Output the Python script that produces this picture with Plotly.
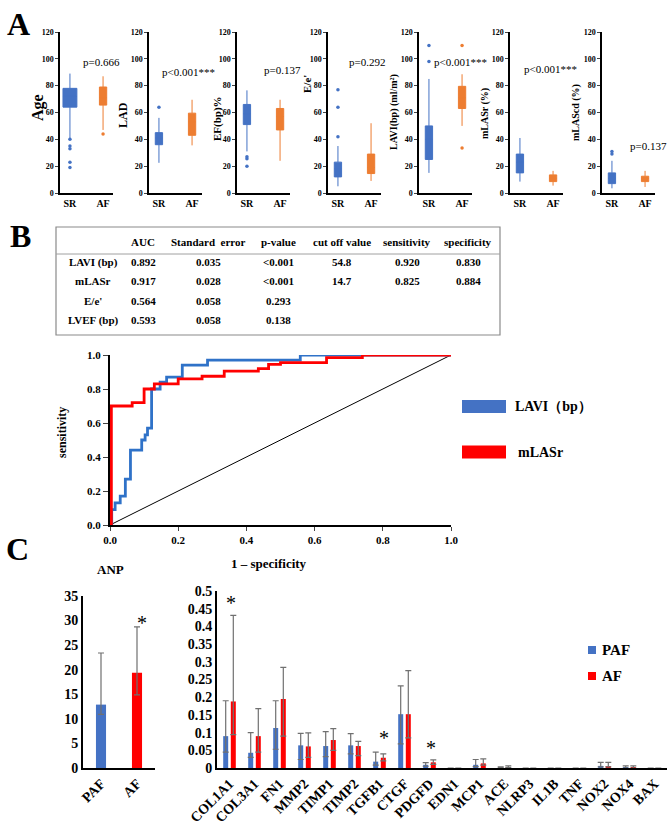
import plotly.graph_objects as go

W, H = 672, 830
def px(x): return x / W
def py(y): return 1 - y / H

SERIF = "Liberation Serif"
BLUE = "#4472C4"
ORANGE = "#ED7D31"
RED = "#FF0000"
ROC_BLUE = "#2F72C8"

# ---------------- Panel A data ----------------
box_labels = ["Age", "LAD", "EF(bp)%", "E/e'", "LAVI(bp) (ml/m²)", "mLASr (%)", "mLAScd (%)"]
p_texts = ["p=0.666", "p<0.001***", "p=0.137", "p=0.292", "p<0.001***", "p<0.001***", "p=0.137"]
group_labels = ["SR", "AF"]

sr_q1 = [64, 36, 51, 12, 25, 15, 7]
sr_med = [72, 41, 59, 18, 40, 23, 11]
sr_q3 = [78, 45, 66, 23, 50, 29, 15]
sr_low = [41, 22.5, 31, 5, 15, 8.5, 3.5]
sr_high = [89, 56, 76.5, 35, 85, 41, 24]
sr_out = [[40, 35, 33, 23, 19], [64], [27, 25.5, 20], [77, 64, 42], [110, 98], [], [31, 29]]

af_q1 = [65.5, 43, 47, 14.5, 63, 8.5, 8.5]
af_med = [71, 53, 57, 19, 71, 11, 10.8]
af_q3 = [79, 59.5, 63, 29, 79.5, 13.5, 12.5]
af_low = [47, 35.5, 24, 9, 50, 5.5, 4.5]
af_high = [87, 69.5, 69.5, 52, 88.5, 16.5, 16.5]
af_out = [[44], [], [], [], [110, 33.5], [], []]

# ---------------- Panel B data ----------------
table_header = ["", "AUC", "Standard  error", "p-value", "cut off value", "sensitivity", "specificity"]
row_labels = ["LAVI (bp)", "mLASr", "E/e'", "LVEF (bp)"]
col_auc = ["0.892", "0.917", "0.564", "0.593"]
col_se = ["0.035", "0.028", "0.058", "0.058"]
col_p = ["<0.001", "<0.001", "0.293", "0.138"]
col_cut = ["54.8", "14.7", "", ""]
col_sens = ["0.920", "0.825", "", ""]
col_spec = ["0.830", "0.884", "", ""]

roc_names = ["LAVI（bp）", "mLASr"]
lavi_fpr = [0, 0.005, 0.015, 0.03, 0.045, 0.06, 0.093, 0.103, 0.11, 0.122, 0.147, 0.166, 0.212, 0.286, 0.558, 1.0]
lavi_tpr = [0, 0.09, 0.13, 0.17, 0.27, 0.44, 0.50, 0.53, 0.57, 0.80, 0.84, 0.87, 0.94, 0.97, 1.0, 1.0]
mlasr_fpr = [0, 0.004, 0.065, 0.10, 0.13, 0.20, 0.27, 0.335, 0.435, 0.465, 0.50, 0.635, 0.74, 1.0]
mlasr_tpr = [0, 0.70, 0.72, 0.80, 0.83, 0.86, 0.875, 0.905, 0.92, 0.945, 0.955, 0.985, 1.0, 1.0]

# ---------------- Panel C data ----------------
anp_groups = ["PAF", "AF"]
anp_mean = [12.9, 19.4]
anp_plus = [10.5, 9.3]
anp_minus = [2.0, 4.5]

genes = ["COL1A1", "COL3A1", "FN1", "MMP2", "TIMP1", "TIMP2", "TGFB1", "CTGF", "PDGFD",
         "EDN1", "MCP1", "ACE", "NLRP3", "IL1B", "TNF", "NOX2", "NOX4", "BAX"]
paf_mean = [0.090, 0.043, 0.113, 0.064, 0.062, 0.064, 0.018, 0.152, 0.009, 0, 0.009, 0.001, 0, 0, 0, 0.006, 0.001, 0]
paf_plus = [0.100, 0.057, 0.077, 0.034, 0.041, 0.033, 0.027, 0.080, 0.006, 0, 0.015, 0.002, 0, 0, 0, 0.010, 0.005, 0]
paf_minus = [0.045, 0.013, 0.060, 0.040, 0.030, 0.024, 0.010, 0.084, 0.004, 0, 0.005, 0.001, 0, 0, 0, 0.003, 0.001, 0]
af_mean = [0.188, 0.090, 0.195, 0.061, 0.079, 0.062, 0.029, 0.152, 0.016, 0, 0.013, 0.002, 0, 0, 0, 0.005, 0.001, 0]
af_plus = [0.243, 0.078, 0.089, 0.038, 0.032, 0.013, 0.011, 0.123, 0.007, 0, 0.013, 0.004, 0, 0, 0, 0.011, 0.005, 0]
af_minus = [0.094, 0.045, 0.105, 0.031, 0.029, 0.027, 0.009, 0.067, 0.006, 0, 0.005, 0.001, 0, 0, 0, 0.002, 0.001, 0]
gene_ticks = [0, 0.05, 0.1, 0.15, 0.2, 0.25, 0.3, 0.35, 0.4, 0.45, 0.5]
series_names = ["PAF", "AF"]

fig = go.Figure()
layout = {}
annotations = []
shapes = []

def axname(n, kind):
    return f"{kind}axis" if n == 1 else f"{kind}axis{n}"
def axref(n, kind):
    return kind if n == 1 else f"{kind}{n}"

def ann(text, x, y, size, bold=True, angle=0, xanchor="center", yanchor="middle", **kw):
    annotations.append(dict(text=text, x=x, y=y, xref=kw.pop("xref", "paper"), yref=kw.pop("yref", "paper"),
                            showarrow=False, textangle=angle, xanchor=xanchor, yanchor=yanchor,
                            font=dict(family=SERIF, size=size, color="black",
                                      weight="bold" if bold else "normal"), **kw))

# ---------------- Panel A ----------------
box_x0 = [60, 149, 237, 328, 419, 510, 602]
ylab_pos = [(38, 108, 16), (123, 115, 12), (218, 119, 11), (307, 84, 11), (394, 112, 10), (485, 114, 10), (576, 113, 10)]
p_pos = [(102, 62), (188, 72), (282, 70), (367, 62), (460, 62), (550, 69), (648, 146)]
sr_width = [0.42, 0.22, 0.22, 0.22, 0.22, 0.22, 0.22]

for i in range(7):
    n = i + 1
    xa, ya = axref(n, "x"), axref(n, "y")
    for pos, q1, med, q3, lo, hi, outs, col, w in [
        (0, sr_q1[i], sr_med[i], sr_q3[i], sr_low[i], sr_high[i], sr_out[i], BLUE, sr_width[i]),
        (1, af_q1[i], af_med[i], af_q3[i], af_low[i], af_high[i], af_out[i], ORANGE, 0.22)]:
        fig.add_trace(go.Box(x=[pos], q1=[q1], median=[med], q3=[q3], lowerfence=[lo], upperfence=[hi],
                             width=w, fillcolor=col, line=dict(color=col, width=1), whiskerwidth=0,
                             boxpoints=False, orientation="v", showlegend=False, hoverinfo="skip",
                             xaxis=xa, yaxis=ya))
        if outs:
            fig.add_trace(go.Scatter(x=[pos] * len(outs), y=outs, mode="markers",
                                     marker=dict(size=3.5, color=col), showlegend=False,
                                     xaxis=xa, yaxis=ya))
    x0 = box_x0[i]
    layout[axname(n, "x")] = dict(domain=[px(x0), px(x0 + 53)], anchor=ya, range=[-0.3, 1.3],
                                  tickvals=[0, 1], ticktext=group_labels, showline=True, linecolor="black",
                                  linewidth=1.5, ticks="", showgrid=False, zeroline=False, automargin=False,
                                  tickfont=dict(family=SERIF, size=10, color="black", weight="bold"))
    layout[axname(n, "y")] = dict(domain=[py(193), py(32)], anchor=xa, range=[0, 120], dtick=20,
                                  showline=True, linecolor="black", linewidth=1.5, ticks="outside",
                                  ticklen=3, tickwidth=1, showgrid=False, zeroline=False, automargin=False,
                                  tickfont=dict(family=SERIF, size=8, color="black", weight="bold"))
    lx, ly, ls = ylab_pos[i]
    ann(box_labels[i], px(lx), py(ly), ls, angle=-90)
    ann(p_texts[i], px(p_pos[i][0]), py(p_pos[i][1]), 11, bold=False)

ann("A", px(18), py(24), 32)
ann("B", px(20), py(236), 32)
ann("C", px(17), py(549), 32)

# ---------------- Panel B table ----------------
tx0, tx1, ty0, ty1 = 56, 500, 227, 335
shapes.append(dict(type="rect", xref="paper", yref="paper", x0=px(tx0), x1=px(tx1), y0=py(ty1), y1=py(ty0),
                   line=dict(color="#8a8a8a", width=1.2)))
shapes.append(dict(type="line", xref="paper", yref="paper", x0=px(tx0), x1=px(tx1), y0=py(254), y1=py(254),
                   line=dict(color="#a0a0a0", width=1)))
col_centers = [93, 143, 208, 278, 342, 407, 468]
row_y = [262, 281, 301, 320]
for c, h in enumerate(table_header):
    ann(h, px(col_centers[c]), py(242), 11)
columns = [row_labels, col_auc, col_se, col_p, col_cut, col_sens, col_spec]
for c, colvals in enumerate(columns):
    for r, v in enumerate(colvals):
        if v:
            ann(v, px(col_centers[c]), py(row_y[r]), 11)

# ---------------- ROC ----------------
fig.add_trace(go.Scatter(x=[0, 1], y=[0, 1], mode="lines", line=dict(color="black", width=1),
                         showlegend=False, xaxis="x8", yaxis="y8"))
fig.add_trace(go.Scatter(x=lavi_fpr, y=lavi_tpr, mode="lines", line=dict(color=ROC_BLUE, width=2.8, shape="hv"),
                         name=roc_names[0], showlegend=False, xaxis="x8", yaxis="y8"))
fig.add_trace(go.Scatter(x=mlasr_fpr, y=mlasr_tpr, mode="lines", line=dict(color=RED, width=2.8, shape="hv"),
                         name=roc_names[1], showlegend=False, xaxis="x8", yaxis="y8"))
layout["xaxis8"] = dict(domain=[px(110), px(451)], anchor="y8", range=[0, 1], dtick=0.2, tickformat=".1f",
                        showline=True, linecolor="black", linewidth=2, ticks="outside", ticklen=4,
                        showgrid=False, zeroline=False, automargin=False,
                        tickfont=dict(family=SERIF, size=11, color="black", weight="bold"))
layout["yaxis8"] = dict(domain=[py(525), py(355)], anchor="x8", range=[0, 1], dtick=0.2, tickformat=".1f",
                        showline=True, linecolor="black", linewidth=2, ticks="outside", ticklen=5,
                        showgrid=False, zeroline=False, automargin=False,
                        tickfont=dict(family=SERIF, size=11, color="black", weight="bold"))
ann("sensitivity", px(62), py(433), 12, angle=-90)
ann("1 – specificity", px(269), py(563), 13)
for (yy, col, name, tx) in [(406.5, BLUE, roc_names[0], 513), (452, RED, roc_names[1], 516)]:
    shapes.append(dict(type="rect", xref="paper", yref="paper", x0=px(462), x1=px(506),
                       y0=py(yy + 6.5), y1=py(yy - 6.5), fillcolor=col, line=dict(width=0)))
    ann(name, px(tx), py(yy), 14, xanchor="left")

# ---------------- Panel C: ANP ----------------
fig.add_trace(go.Bar(x=anp_groups, y=anp_mean, width=0.28, marker=dict(color=[BLUE, RED], line=dict(width=0)),
                     error_y=dict(type="data", array=anp_plus, arrayminus=anp_minus, color="#707070",
                                  thickness=1.2, width=3),
                     showlegend=False, xaxis="x9", yaxis="y9"))
layout["xaxis9"] = dict(domain=[px(83), px(155)], anchor="y9", showline=True, linecolor="black", linewidth=2,
                        tickangle=-45, ticks="", showgrid=False, zeroline=False, automargin=False,
                        tickfont=dict(family=SERIF, size=14, color="black", weight="bold"))
layout["yaxis9"] = dict(domain=[py(768), py(596)], anchor="x9", range=[0, 35], dtick=5, showline=True,
                        linecolor="black", linewidth=2, ticks="", showgrid=False, zeroline=False, automargin=False,
                        tickfont=dict(family=SERIF, size=14, color="black", weight="bold"))
ann("ANP", px(110), py(569), 13)
ann("*", "AF", 29.5, 20, bold=False, xref="x9", yref="y9", xshift=5)

# ---------------- Panel C: genes ----------------
for name, mean, plus, minus, col, off in [(series_names[0], paf_mean, paf_plus, paf_minus, BLUE, -0.252),
                                          (series_names[1], af_mean, af_plus, af_minus, RED, 0.052)]:
    fig.add_trace(go.Bar(x=genes, y=mean, width=0.2, offset=off, name=name,
                         marker=dict(color=col, line=dict(width=0)),
                         error_y=dict(type="data", array=plus, arrayminus=minus, color="#707070",
                                      thickness=1.2, width=3),
                         showlegend=False, xaxis="x10", yaxis="y10"))
layout["xaxis10"] = dict(domain=[px(217), px(667)], anchor="y10", showline=True, linecolor="black", linewidth=2,
                         tickangle=-45, ticks="", showgrid=False, zeroline=False, automargin=False,
                         tickfont=dict(family=SERIF, size=14, color="black", weight="bold"))
layout["yaxis10"] = dict(domain=[py(768), py(591)], anchor="x10", range=[0, 0.5], tickvals=gene_ticks,
                         ticktext=[f"{t:g}" for t in gene_ticks], showline=True, linecolor="black",
                         linewidth=2, ticks="", showgrid=False, zeroline=False, automargin=False,
                         tickfont=dict(family=SERIF, size=14, color="black", weight="bold"))
ann("*", "COL1A1", 0.466, 20, bold=False, xref="x10", yref="y10", xshift=1)
ann("*", "TGFB1", 0.085, 20, bold=False, xref="x10", yref="y10", xshift=4)
ann("*", "PDGFD", 0.057, 20, bold=False, xref="x10", yref="y10", xshift=1)
for (yy, col, name) in [(650, BLUE, series_names[0]), (676, RED, series_names[1])]:
    shapes.append(dict(type="rect", xref="paper", yref="paper", x0=px(588), x1=px(596),
                       y0=py(yy + 4), y1=py(yy - 4), fillcolor=col, line=dict(width=0)))
    ann(name, px(600), py(yy), 15, xanchor="left")

fig.update_layout(width=W, height=H, margin=dict(l=0, r=0, t=0, b=0, pad=0, autoexpand=False),
                  paper_bgcolor="white", plot_bgcolor="white", showlegend=False, hovermode=False,
                  annotations=annotations, shapes=shapes,
                  font=dict(family=SERIF, color="black"), **layout)
fig.write_html("out.html", config={"displayModeBar": False},
               post_script="document.body.style.margin='0';document.body.style.overflow='hidden';")
